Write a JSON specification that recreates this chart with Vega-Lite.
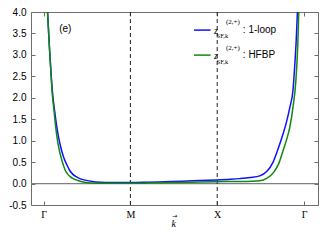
{
  "$schema": "https://vega.github.io/schema/vega-lite/v6.json",
  "width": 287,
  "height": 193,
  "autosize": {"type": "none"},
  "padding": {"left": 31, "top": 12, "right": 7, "bottom": 40},
  "config": {
    "view": {"stroke": "#6e6e6e", "strokeWidth": 1},
    "axis": {"domain": false, "grid": false, "tickColor": "#6e6e6e", "tickSize": -4, "tickWidth": 1, "labelColor": "#000", "labelOverlap": false}
  },
  "resolve": {"axis": {"x": "independent", "y": "independent"}},
  "layer": [
    {
      "data": {"values": [{"z": 0}]},
      "mark": {"type": "rule", "color": "#808080", "strokeWidth": 1.2},
      "encoding": {"y": {"field": "z", "type": "quantitative", "scale": {"domain": [-0.5, 4], "nice": false}, "axis": null}}
    },
    {
      "data": {"values": [{"k": 1}, {"k": 2}]},
      "mark": {"type": "rule", "color": "#222", "strokeWidth": 1, "strokeDash": [4, 3]},
      "encoding": {"x": {"field": "k", "type": "quantitative", "scale": {"domain": [-0.145, 3.161], "nice": false}, "axis": null}}
    },
    {
      "data": {"values": [
        {"series": "1-loop", "k": 0.02, "z": 5.0},
        {"series": "1-loop", "k": 0.046, "z": 4.0},
        {"series": "1-loop", "k": 0.067, "z": 3.2},
        {"series": "1-loop", "k": 0.0885, "z": 2.49},
        {"series": "1-loop", "k": 0.106, "z": 2.05},
        {"series": "1-loop", "k": 0.126, "z": 1.71},
        {"series": "1-loop", "k": 0.148, "z": 1.38},
        {"series": "1-loop", "k": 0.172, "z": 1.09},
        {"series": "1-loop", "k": 0.2, "z": 0.83},
        {"series": "1-loop", "k": 0.23, "z": 0.62},
        {"series": "1-loop", "k": 0.265, "z": 0.45},
        {"series": "1-loop", "k": 0.299, "z": 0.31},
        {"series": "1-loop", "k": 0.335, "z": 0.22},
        {"series": "1-loop", "k": 0.376, "z": 0.16},
        {"series": "1-loop", "k": 0.425, "z": 0.11},
        {"series": "1-loop", "k": 0.479, "z": 0.08},
        {"series": "1-loop", "k": 0.56, "z": 0.048},
        {"series": "1-loop", "k": 0.65, "z": 0.032},
        {"series": "1-loop", "k": 0.8, "z": 0.024},
        {"series": "1-loop", "k": 1.0, "z": 0.022},
        {"series": "1-loop", "k": 1.2, "z": 0.03},
        {"series": "1-loop", "k": 1.4, "z": 0.042},
        {"series": "1-loop", "k": 1.6, "z": 0.055},
        {"series": "1-loop", "k": 1.8, "z": 0.07},
        {"series": "1-loop", "k": 2.0, "z": 0.085},
        {"series": "1-loop", "k": 2.15, "z": 0.1},
        {"series": "1-loop", "k": 2.26, "z": 0.115},
        {"series": "1-loop", "k": 2.38, "z": 0.14},
        {"series": "1-loop", "k": 2.49, "z": 0.18},
        {"series": "1-loop", "k": 2.57, "z": 0.28},
        {"series": "1-loop", "k": 2.644, "z": 0.5},
        {"series": "1-loop", "k": 2.7, "z": 0.8},
        {"series": "1-loop", "k": 2.759, "z": 1.16},
        {"series": "1-loop", "k": 2.8, "z": 1.45},
        {"series": "1-loop", "k": 2.836, "z": 1.77},
        {"series": "1-loop", "k": 2.874, "z": 2.2},
        {"series": "1-loop", "k": 2.893, "z": 2.75},
        {"series": "1-loop", "k": 2.91, "z": 3.34},
        {"series": "1-loop", "k": 2.924, "z": 4.0},
        {"series": "1-loop", "k": 2.95, "z": 5.5},
        {"series": "HFBP", "k": 0.02, "z": 5.0},
        {"series": "HFBP", "k": 0.045, "z": 4.0},
        {"series": "HFBP", "k": 0.066, "z": 3.2},
        {"series": "HFBP", "k": 0.0885, "z": 2.45},
        {"series": "HFBP", "k": 0.104, "z": 2.0},
        {"series": "HFBP", "k": 0.12, "z": 1.71},
        {"series": "HFBP", "k": 0.136, "z": 1.38},
        {"series": "HFBP", "k": 0.154, "z": 1.09},
        {"series": "HFBP", "k": 0.175, "z": 0.84},
        {"series": "HFBP", "k": 0.2, "z": 0.62},
        {"series": "HFBP", "k": 0.225, "z": 0.45},
        {"series": "HFBP", "k": 0.249, "z": 0.31},
        {"series": "HFBP", "k": 0.278, "z": 0.22},
        {"series": "HFBP", "k": 0.307, "z": 0.16},
        {"series": "HFBP", "k": 0.345, "z": 0.11},
        {"series": "HFBP", "k": 0.384, "z": 0.08},
        {"series": "HFBP", "k": 0.44, "z": 0.04},
        {"series": "HFBP", "k": 0.537, "z": 0.012},
        {"series": "HFBP", "k": 0.7, "z": 0.006},
        {"series": "HFBP", "k": 1.0, "z": 0.006},
        {"series": "HFBP", "k": 1.2, "z": 0.012},
        {"series": "HFBP", "k": 1.5, "z": 0.025},
        {"series": "HFBP", "k": 1.8, "z": 0.037},
        {"series": "HFBP", "k": 2.0, "z": 0.045},
        {"series": "HFBP", "k": 2.2, "z": 0.048},
        {"series": "HFBP", "k": 2.4, "z": 0.055},
        {"series": "HFBP", "k": 2.49, "z": 0.065},
        {"series": "HFBP", "k": 2.57, "z": 0.12},
        {"series": "HFBP", "k": 2.65, "z": 0.26},
        {"series": "HFBP", "k": 2.71, "z": 0.47},
        {"series": "HFBP", "k": 2.759, "z": 0.77},
        {"series": "HFBP", "k": 2.8, "z": 1.03},
        {"series": "HFBP", "k": 2.836, "z": 1.31},
        {"series": "HFBP", "k": 2.874, "z": 1.8},
        {"series": "HFBP", "k": 2.905, "z": 2.37},
        {"series": "HFBP", "k": 2.928, "z": 3.25},
        {"series": "HFBP", "k": 2.939, "z": 4.0},
        {"series": "HFBP", "k": 2.96, "z": 5.5}
      ]},
      "mark": {"type": "line", "interpolate": "monotone", "strokeWidth": 1.5, "clip": true},
      "encoding": {
        "x": {
          "field": "k", "type": "quantitative",
          "scale": {"domain": [-0.145, 3.161], "nice": false},
          "axis": {
            "orient": "bottom", "values": [0, 1, 2, 3],
            "labelExpr": "datum.value == 1 ? 'M' : (datum.value == 2 ? 'X' : 'Γ')",
            "labelFont": "Liberation Serif", "labelFontSize": 10, "labelPadding": 8,
            "title": null
          }
        },
        "y": {
          "field": "z", "type": "quantitative",
          "scale": {"domain": [-0.5, 4], "nice": false},
          "axis": {
            "orient": "left", "values": [-0.5, 0, 0.5, 1, 1.5, 2, 2.5, 3, 3.5, 4],
            "labelExpr": "replace(format(datum.value, '.1f'), '\u2212', '-')",
            "labelFont": "Liberation Sans", "labelFontSize": 10, "labelPadding": 9,
            "title": null
          }
        },
        "color": {
          "field": "series", "type": "nominal",
          "scale": {"domain": ["1-loop", "HFBP"], "range": ["#1010ff", "#118811"]},
          "legend": null
        }
      }
    },
    {
      "data": {"values": [{"series": "1-loop"}]},
      "mark": {"type": "rule", "color": "#1010ff", "strokeWidth": 1.5},
      "encoding": {"x": {"datum": 1.732, "type": "quantitative", "axis": null}, "x2": {"datum": 1.924}, "y": {"datum": 3.578, "type": "quantitative", "axis": null}}
    },
    {
      "data": {"values": [{"series": "HFBP"}]},
      "mark": {"type": "rule", "color": "#118811", "strokeWidth": 1.5},
      "encoding": {"x": {"datum": 1.732, "type": "quantitative", "axis": null}, "x2": {"datum": 1.924}, "y": {"datum": 2.995, "type": "quantitative", "axis": null}}
    },
    {
      "data": {"values": [{"label": "z"}]},
      "mark": {"type": "text", "align": "left", "baseline": "middle", "font": "Liberation Serif", "fontStyle": "italic", "fontSize": 10},
      "encoding": {"text": {"field": "label"}, "x": {"datum": 1.962, "type": "quantitative", "axis": null}, "y": {"datum": 3.565, "type": "quantitative", "axis": null}}
    },
    {
      "data": {"values": [{"label": "z"}]},
      "mark": {"type": "text", "align": "left", "baseline": "middle", "font": "Liberation Serif", "fontStyle": "italic", "fontSize": 10},
      "encoding": {"text": {"field": "label"}, "x": {"datum": 1.962, "type": "quantitative", "axis": null}, "y": {"datum": 2.966, "type": "quantitative", "axis": null}}
    },
    {
      "data": {"values": [{"label": "(2,+)"}]},
      "mark": {"type": "text", "align": "left", "baseline": "middle", "font": "Liberation Serif", "fontSize": 7},
      "encoding": {"text": {"field": "label"}, "x": {"datum": 2.1, "type": "quantitative", "axis": null}, "y": {"datum": 3.77, "type": "quantitative", "axis": null}}
    },
    {
      "data": {"values": [{"label": "(2,+)"}]},
      "mark": {"type": "text", "align": "left", "baseline": "middle", "font": "Liberation Serif", "fontSize": 7},
      "encoding": {"text": {"field": "label"}, "x": {"datum": 2.1, "type": "quantitative", "axis": null}, "y": {"datum": 3.165, "type": "quantitative", "axis": null}}
    },
    {
      "data": {"values": [{"label": "SF,k"}]},
      "mark": {"type": "text", "align": "left", "baseline": "middle", "font": "Liberation Serif", "fontSize": 6.5},
      "encoding": {"text": {"field": "label"}, "x": {"datum": 1.993, "type": "quantitative", "axis": null}, "y": {"datum": 3.45, "type": "quantitative", "axis": null}}
    },
    {
      "data": {"values": [{"label": "SF,k"}]},
      "mark": {"type": "text", "align": "left", "baseline": "middle", "font": "Liberation Serif", "fontSize": 6.5},
      "encoding": {"text": {"field": "label"}, "x": {"datum": 1.993, "type": "quantitative", "axis": null}, "y": {"datum": 2.845, "type": "quantitative", "axis": null}}
    },
    {
      "data": {"values": [{"label": ": 1-loop"}]},
      "mark": {"type": "text", "align": "left", "baseline": "middle", "font": "Liberation Sans", "fontSize": 10},
      "encoding": {"text": {"field": "label"}, "x": {"datum": 2.295, "type": "quantitative", "axis": null}, "y": {"datum": 3.578, "type": "quantitative", "axis": null}}
    },
    {
      "data": {"values": [{"label": ": HFBP"}]},
      "mark": {"type": "text", "align": "left", "baseline": "middle", "font": "Liberation Sans", "fontSize": 10},
      "encoding": {"text": {"field": "label"}, "x": {"datum": 2.295, "type": "quantitative", "axis": null}, "y": {"datum": 2.995, "type": "quantitative", "axis": null}}
    },
    {
      "data": {"values": [{"label": "(e)"}]},
      "mark": {"type": "text", "align": "left", "baseline": "middle", "font": "Liberation Sans", "fontSize": 10},
      "encoding": {"text": {"field": "label"}, "x": {"datum": 0.18, "type": "quantitative", "axis": null}, "y": {"datum": 3.6, "type": "quantitative", "axis": null}}
    },
    {
      "data": {"values": [{"label": "k"}]},
      "mark": {"type": "text", "align": "center", "baseline": "alphabetic", "font": "Liberation Serif", "fontStyle": "italic", "fontSize": 10},
      "encoding": {"text": {"field": "label"}, "x": {"datum": 1.5, "type": "quantitative", "axis": null}, "y": {"datum": -1.01, "type": "quantitative", "axis": null}}
    },
    {
      "data": {"values": [{"label": "→"}]},
      "mark": {"type": "text", "align": "center", "baseline": "middle", "font": "DejaVu Sans", "fontSize": 6},
      "encoding": {"text": {"field": "label"}, "x": {"datum": 1.512, "type": "quantitative", "axis": null}, "y": {"datum": -0.76, "type": "quantitative", "axis": null}}
    },
    {
      "data": {"values": [{"k": 0, "z": 0}]},
      "mark": {"type": "point", "opacity": 0},
      "encoding": {
        "x": {"field": "k", "type": "quantitative",
          "axis": {"orient": "top", "values": [0, 1, 2, 3], "labels": false, "title": null}},
        "y": {"field": "z", "type": "quantitative",
          "axis": {"orient": "right", "values": [-0.5, 0, 0.5, 1, 1.5, 2, 2.5, 3, 3.5, 4], "labels": false, "title": null}}
      }
    }
  ]
}
